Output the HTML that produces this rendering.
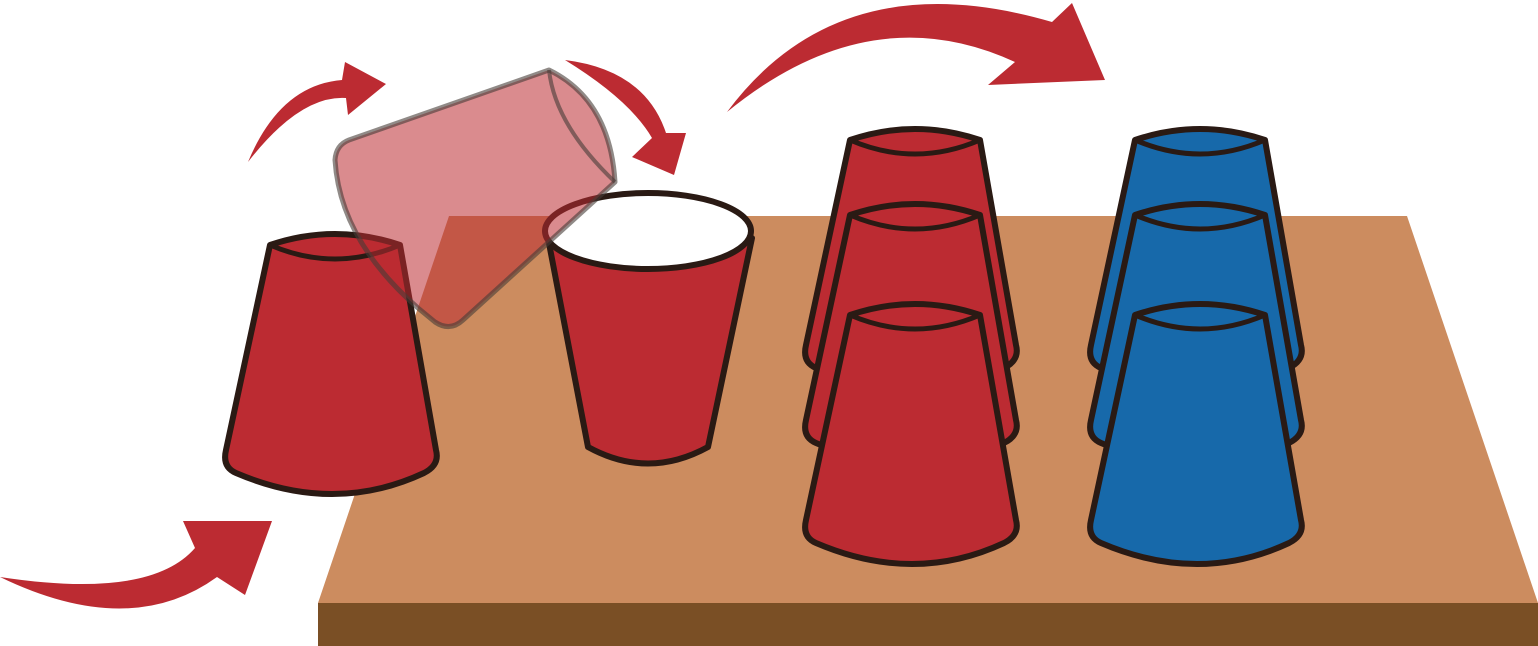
<!DOCTYPE html>
<html><head><meta charset="utf-8"><style>html,body{margin:0;padding:0;background:#fff}svg{display:block}</style></head>
<body>
<svg width="1538" height="646" viewBox="0 0 1538 646" xmlns="http://www.w3.org/2000/svg">
<defs>
<g id="cupdown">
  <path d="M0,0 L-44,205 Q-48,222 -34,228 Q64,270 154,228 Q170,220 166,205 L130,0 Q65,-22 0,0 Z" fill="currentColor" stroke="#2a1a14" stroke-width="6" stroke-linejoin="round"/>
  <path d="M0,0 Q65,28 130,0" fill="none" stroke="#2a1a14" stroke-width="5"/>
</g>
</defs>
<polygon points="449,216 1407,216 1538,603 318,603" fill="#cc8c5f"/>
<rect x="318" y="603" width="1220" height="43" fill="#7a4f25"/>

<g color="#bc2b32"><use href="#cupdown" x="270" y="245"/></g>

<g>
  <path d="M548,238 L588,447 Q648,480 708,447 L752,238 Z" fill="#bc2b32" stroke="#2a1a14" stroke-width="6" stroke-linejoin="round"/>
  <ellipse cx="648" cy="231" rx="103" ry="38" fill="#fff" stroke="#2a1a14" stroke-width="6"/>
</g>

<g>
  <path d="M349,140 L549,70 Q610,100 615,182 L463,320 Q450,332 435,322 L418,308 Q340,240 335,160 Q336,145 349,140 Z" fill="rgba(188,43,50,0.55)" stroke="rgba(70,60,55,0.6)" stroke-width="5" stroke-linejoin="round"/>
  <path d="M549,70 Q555,125 615,182" fill="none" stroke="rgba(70,60,55,0.6)" stroke-width="4"/>
</g>

<g color="#bc2b32">
  <use href="#cupdown" x="850" y="140"/>
  <use href="#cupdown" x="850" y="215"/>
  <use href="#cupdown" x="850" y="315"/>
</g>
<g color="#1769aa">
  <use href="#cupdown" x="1135" y="140"/>
  <use href="#cupdown" x="1135" y="215"/>
  <use href="#cupdown" x="1135" y="315"/>
</g>

<g fill="#bc2b32">
  <path d="M0,577 Q150,600 195,548 L183,521 L272,521 L245,595 L217,577 Q130,640 0,577 Z"/>
  <path d="M248,162 Q280,85 342,80 L345,62 L386,84 L348,115 L346,98 Q300,95 248,162 Z"/>
  <path d="M565,60 Q645,70 666,133 L686,133 L674,175 L632,157 L652,138 Q630,100 565,60 Z"/>
  <path d="M727,112 Q840,-40 1052,22 L1072,3 L1105,80 L988,85 L1015,62 Q870,-5 727,112 Z"/>
</g>
</svg>
</body></html>
